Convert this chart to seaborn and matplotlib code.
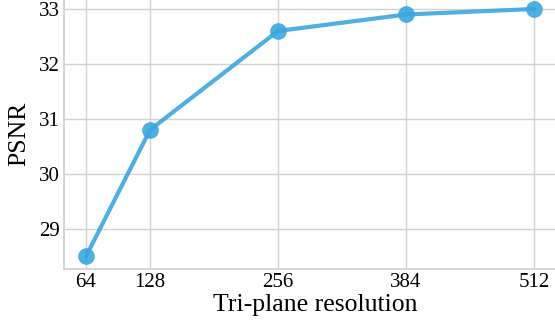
import seaborn as sns
import matplotlib.pyplot as plt
import pandas as pd

# Data
resolution = [64, 128, 256, 384, 512]
psnr = [28.5, 30.8, 32.6, 32.9, 33.0]
tick_labels = ['64', '128', '256', '384', '512']

df = pd.DataFrame({'res': resolution, 'psnr': psnr})

sns.set_theme(style="whitegrid")
plt.rcParams['font.family'] = 'serif'
plt.rcParams['font.serif'] = ['Liberation Serif', 'DejaVu Serif']
plt.rcParams['grid.color'] = '#d2d2d2'
plt.rcParams['axes.edgecolor'] = '#d2d2d2'
plt.rcParams['text.color'] = 'black'
plt.rcParams['axes.labelcolor'] = 'black'
plt.rcParams['xtick.labelcolor'] = 'black'
plt.rcParams['ytick.labelcolor'] = 'black'

fig = plt.figure(figsize=(5.55, 3.23), dpi=100)
# axes run past the top/right edge, as in the cropped original
ax = fig.add_axes([64 / 555, 54 / 323, 503 / 555, 271 / 323])

sns.lineplot(
    data=df, x='res', y='psnr', ax=ax,
    color='#3ba6de', linewidth=3, alpha=0.9,
    marker='o', markersize=12, markeredgewidth=0
)

ax.set_xlim(42, 545)
ax.set_ylim(28.27, 33.2)
ax.set_xticks(resolution)
ax.set_xticklabels(tick_labels)
ax.set_yticks([29, 30, 31, 32, 33])
ax.tick_params(labelsize=15, length=0, pad=3, labelcolor='black')
ax.set_xlabel('Tri-plane resolution', fontsize=18.5, labelpad=1, color='black')
ax.set_ylabel('PSNR', fontsize=18.5, labelpad=6, color='black')
for s in ['top', 'right']:
    ax.spines[s].set_visible(False)

fig.savefig('out.png', dpi=100)
